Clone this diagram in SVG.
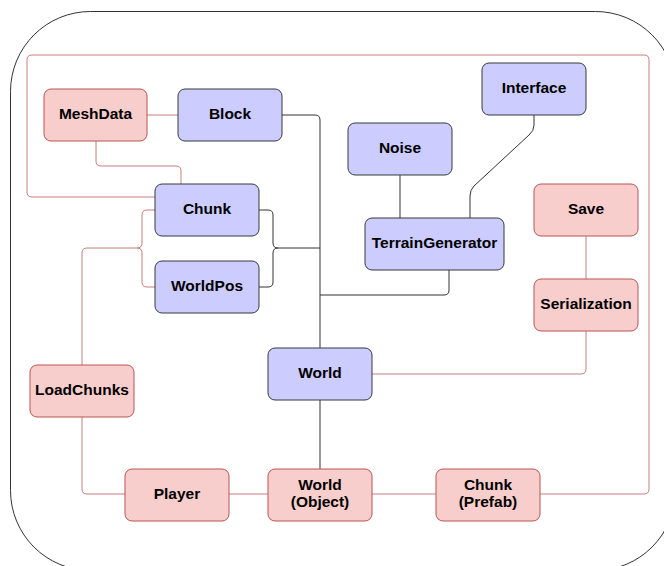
<svg xmlns="http://www.w3.org/2000/svg" width="664" height="566" viewBox="0 0 664 566">
<style>
.blue rect{fill:#ccccff;stroke:#36393d;stroke-width:1}
.red rect{fill:#f8cecc;stroke:#b85450;stroke-width:1}
text{font-family:"Liberation Sans",Arial,sans-serif;font-weight:bold;font-size:15.5px;fill:#000;text-anchor:middle}
.ek{fill:none;stroke:#333333;stroke-width:1}
.er{fill:none;stroke:#b85450;stroke-width:1;opacity:0.75}
</style>
<rect x="10.5" y="11.5" width="665" height="559" rx="80" ry="80" fill="#ffffff" stroke="#333333" stroke-width="1"/>
<g id="connectors">
<path class="er" d="M540,494 H644 Q649,494 649,489 V60 Q649,55 644,55 H32 Q27,55 27,60 V192 Q27,197 32,197 H155"/>
<path class="er" d="M147,115 H178"/>
<path class="er" d="M96,141 V161 Q96,166 101,166 H176 Q181,166 181,171 V184"/>
<path class="er" d="M155,210 H147 Q142,210 142,215 V243 Q142,248 137,248 H87 Q82,248 82,253 V365"/>
<path class="er" d="M155,287 H147 Q142,287 142,282 V253 Q142,248 137,248"/>
<path class="er" d="M82,417 V489 Q82,494 87,494 H125"/>
<path class="er" d="M229,494 H268"/>
<path class="er" d="M372,494 H436"/>
<path class="er" d="M372,374 H581 Q586,374 586,369 V331"/>
<path class="er" d="M586,236 V279"/>
<path class="ek" d="M282,115 H315 Q320,115 320,120 V348"/>
<path class="ek" d="M259,210 H268 Q273,210 273,215 V243 Q273,248 278,248 H320"/>
<path class="ek" d="M259,287 H268 Q273,287 273,282 V253 Q273,248 278,248"/>
<path class="ek" d="M449,270 V290 Q449,295 444,295 H320"/>
<path class="ek" d="M400,175 V218"/>
<path class="ek" d="M534,115 V125 Q534,131 529,135 L474,186 Q470,190 470,196 V218"/>
<path class="ek" d="M320,400 V469"/>
</g>
<g id="MeshData" class="red"><rect x="44" y="89" width="103" height="52" rx="7"/><text x="95.5" y="119">MeshData</text></g>
<g id="Block" class="blue"><rect x="178" y="89" width="104" height="52" rx="7"/><text x="230" y="119">Block</text></g>
<g id="Chunk" class="blue"><rect x="155" y="184" width="104" height="52" rx="7"/><text x="207" y="214">Chunk</text></g>
<g id="WorldPos" class="blue"><rect x="155" y="261" width="104" height="52" rx="7"/><text x="207" y="291">WorldPos</text></g>
<g id="Interface" class="blue"><rect x="482" y="63" width="104" height="52" rx="7"/><text x="534" y="93">Interface</text></g>
<g id="Noise" class="blue"><rect x="348" y="123" width="104" height="52" rx="7"/><text x="400" y="153">Noise</text></g>
<g id="TerrainGenerator" class="blue"><rect x="365" y="218" width="139" height="52" rx="7"/><text x="434.5" y="248">TerrainGenerator</text></g>
<g id="Save" class="red"><rect x="534" y="184" width="104" height="52" rx="7"/><text x="586" y="214">Save</text></g>
<g id="Serialization" class="red"><rect x="534" y="279" width="104" height="52" rx="7"/><text x="586" y="309">Serialization</text></g>
<g id="World" class="blue"><rect x="268" y="348" width="104" height="52" rx="7"/><text x="320" y="378">World</text></g>
<g id="LoadChunks" class="red"><rect x="30" y="365" width="104" height="52" rx="7"/><text x="82" y="395">LoadChunks</text></g>
<g id="Player" class="red"><rect x="125" y="469" width="104" height="52" rx="7"/><text x="177" y="499">Player</text></g>
<g id="WorldObject" class="red"><rect x="268" y="469" width="104" height="52" rx="7"/><text x="320" y="489.5">World</text><text x="320" y="507">(Object)</text></g>
<g id="ChunkPrefab" class="red"><rect x="436" y="469" width="104" height="52" rx="7"/><text x="488" y="489.5">Chunk</text><text x="488" y="507">(Prefab)</text></g>
</svg>
